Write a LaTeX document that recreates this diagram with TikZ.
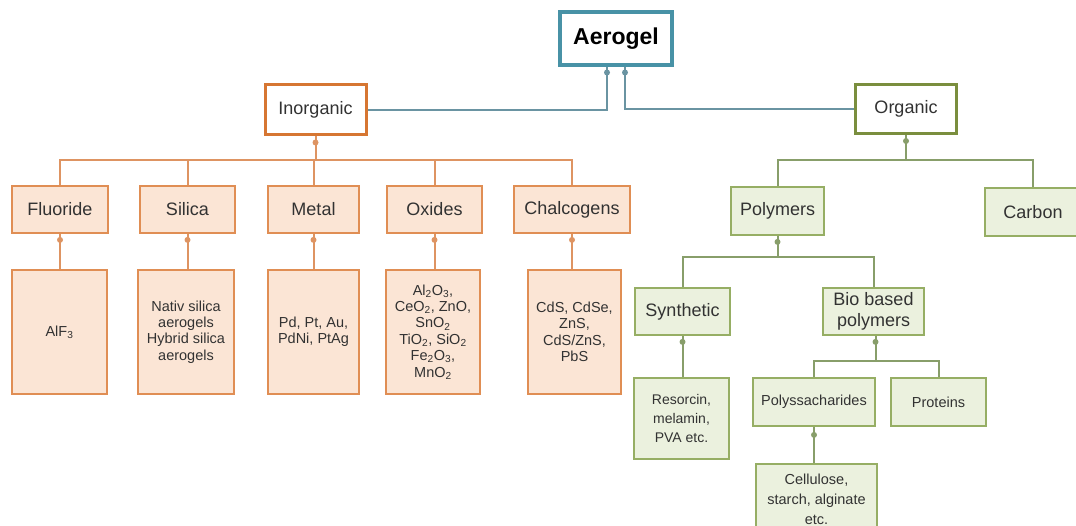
\documentclass[tikz,border=0pt]{standalone}
\usepackage{fontspec}
\setmainfont{Liberation Sans}
\definecolor{txt}{RGB}{50,50,50}
\definecolor{peach}{RGB}{251,229,213}
\definecolor{oborder}{RGB}{224,142,84}
\definecolor{oline}{RGB}{222,148,98}
\definecolor{odark}{RGB}{214,118,50}
\definecolor{gfill}{RGB}{235,241,222}
\definecolor{gborder}{RGB}{150,174,100}
\definecolor{gline}{RGB}{136,158,106}
\definecolor{gdark}{RGB}{122,142,62}
\definecolor{teal}{RGB}{72,146,166}
\definecolor{tline}{RGB}{106,148,162}
\tikzset{
  basebox/.style={rectangle, align=center, inner sep=2pt, text=txt},
  bigfont/.style={font=\fontsize{18}{20}\selectfont},
  smallfont/.style={font=\fontsize{14.5}{16.4}\selectfont},
  gsmall/.style={font=\fontsize{14}{19}\selectfont},
  aerobox/.style={basebox, draw=teal, line width=4pt, fill=white, text=black,
    font=\fontsize{23}{25}\selectfont\bfseries, minimum width=112pt, minimum height=53pt},
  inorgbox/.style={basebox, bigfont, draw=odark, line width=3pt, fill=white,
    minimum width=101pt, minimum height=50pt},
  orgbox/.style={basebox, bigfont, draw=gdark, line width=3pt, fill=white,
    minimum width=101pt, minimum height=49pt},
  otwo/.style={basebox, bigfont, draw=oborder, line width=1.8pt, fill=peach, minimum height=47pt},
  othree/.style={basebox, smallfont, draw=oborder, line width=1.8pt, fill=peach, minimum height=124pt},
  gbox/.style={basebox, draw=gborder, line width=1.8pt, fill=gfill},
  ocon/.style={draw=oline, line width=2pt},
  gcon/.style={draw=gline, line width=2pt},
  tcon/.style={draw=tline, line width=2pt},
}
\begin{document}
\begin{tikzpicture}[x=1pt, y=-1pt]
\useasboundingbox (0,0) rectangle (1076,526);
% top
\node[aerobox] (aero) at (616,39) {Aerogel};
\node[inorgbox] (inorg) at (315.5,110) {Inorganic};
\node[orgbox] (org) at (906,109) {Organic};
% inorganic level 2
\node[otwo, minimum width=96pt] (fluor) at (60,209.5) {Fluoride};
\node[otwo, minimum width=95pt] (silica) at (187.5,209.5) {Silica};
\node[otwo, minimum width=91pt] (metal) at (313.5,209.5) {Metal};
\node[otwo, minimum width=95pt] (oxides) at (434.5,209.5) {Oxides};
\node[otwo, minimum width=116pt] (chalc) at (572,209.5) {Chalcogens};
% inorganic level 3
\node[othree, minimum width=95pt] (fluorS) at (59.5,332) {AlF\textsubscript{3}};
\node[othree, minimum width=96pt] (silicaS) at (186,332) {Nativ silica\\aerogels\\Hybrid silica\\aerogels};
\node[othree, minimum width=91pt] (metalS) at (313.5,332) {Pd, Pt, Au,\\PdNi, PtAg};
\node[othree, minimum width=94pt] (oxidesS) at (433,332) {Al\textsubscript{2}O\textsubscript{3},\\CeO\textsubscript{2}, ZnO,\\SnO\textsubscript{2}\\TiO\textsubscript{2}, SiO\textsubscript{2}\\Fe\textsubscript{2}O\textsubscript{3},\\MnO\textsubscript{2}};
\node[othree, minimum width=93pt] (chalcS) at (574.5,332) {CdS, CdSe,\\ZnS,\\CdS/ZnS,\\PbS};
% organic
\node[gbox, bigfont, minimum width=93pt, minimum height=48pt] (poly) at (777.5,211) {Polymers};
\node[gbox, bigfont, minimum width=96pt, minimum height=48pt] (carbon) at (1033,212) {Carbon};
\node[gbox, bigfont, minimum width=95pt, minimum height=47pt] (synth) at (682.5,311.5) {Synthetic};
\node[gbox, font=\fontsize{18}{21}\selectfont, minimum width=101pt, minimum height=47pt, inner sep=1pt] (bio) at (873.5,311.5) {Bio based\\polymers};
\node[gbox, gsmall, minimum width=95pt, minimum height=81pt] (resor) at (681.5,418.5) {Resorcin,\\melamin,\\PVA etc.};
\node[gbox, font=\fontsize{14.5}{17}\selectfont, minimum width=122pt, minimum height=48pt] (polys) at (814,402) {Polyssacharides};
\node[gbox, font=\fontsize{14.5}{17}\selectfont, minimum width=95pt, minimum height=48pt] (prot) at (938.5,402) {Proteins};
\node[gbox, font=\fontsize{14.5}{20}\selectfont, minimum width=121pt, minimum height=70pt, anchor=north] (cell) at (816.5,463) {Cellulose,\\starch, alginate\\etc.};
% bus coordinates
\coordinate (busI) at (0,160);
\coordinate (busO) at (0,160);
\coordinate (busP) at (0,257);
\coordinate (busB) at (0,361);
% aerogel connectors
\draw[tcon] ([xshift=-9pt]aero.south) |- (inorg.east);
\draw[tcon] ([xshift=9pt]aero.south) |- (org.west);
\fill[tline] ([xshift=-9pt,yshift=-5pt]aero.south) circle[radius=3pt];
\fill[tline] ([xshift=9pt,yshift=-5pt]aero.south) circle[radius=3pt];
% inorganic connectors
\fill[oline] ([yshift=-6pt]inorg.south) circle[radius=3pt];
\foreach \c in {fluor,silica,metal,oxides,chalc}{
  \draw[ocon] (inorg.south) -- (inorg.south |- busI) -| (\c.north);
  \draw[ocon] (\c.south) -- (\c.south |- \c S.north);
  \fill[oline] ([yshift=-6pt]\c.south) circle[radius=3pt];
}
% organic connectors
\draw[gcon] (org.south) -- (org.south |- busO) -| (poly.north);
\draw[gcon] (org.south) -- (org.south |- busO) -| (carbon.north);
\fill[gline] ([yshift=-6pt]org.south) circle[radius=3pt];
\draw[gcon] (poly.south) -- (poly.south |- busP) -| (synth.north);
\draw[gcon] (poly.south) -- (poly.south |- busP) -| (bio.north);
\fill[gline] ([yshift=-6pt]poly.south) circle[radius=3pt];
\draw[gcon] (synth.south) -- (synth.south |- resor.north);
\fill[gline] ([yshift=-6pt]synth.south) circle[radius=3pt];
\draw[gcon] ([xshift=2pt]bio.south) -- ([xshift=2pt]bio.south |- busB) -| (polys.north);
\draw[gcon] ([xshift=2pt]bio.south) -- ([xshift=2pt]bio.south |- busB) -| (prot.north);
\fill[gline] ([xshift=2pt,yshift=-6pt]bio.south) circle[radius=3pt];
\draw[gcon] (polys.south) -- (polys.south |- cell.north);
\fill[gline] ([yshift=-8pt]polys.south) circle[radius=3pt];
\end{tikzpicture}
\end{document}
